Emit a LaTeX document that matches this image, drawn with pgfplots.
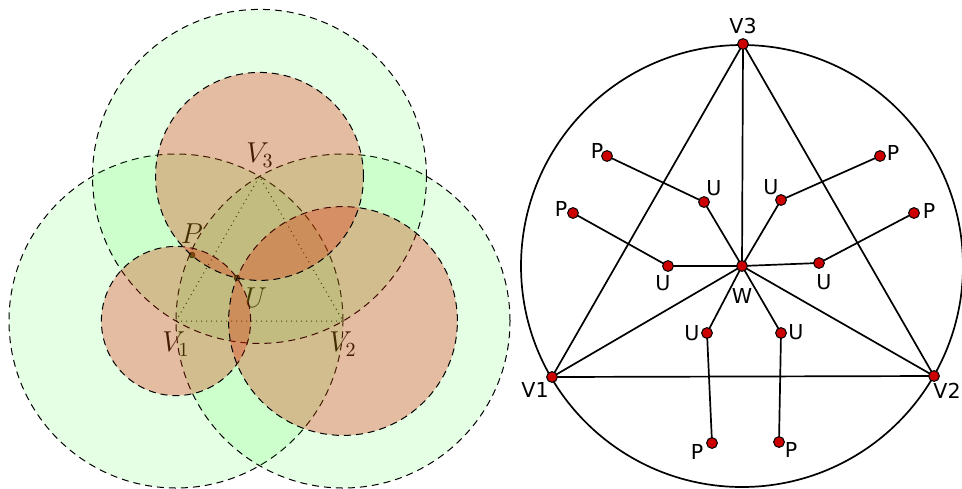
\documentclass[border=0pt]{standalone}
\usepackage{pgfplots}
\pgfplotsset{compat=1.18}
\usepackage{fontspec}
\newfontfamily\dv{DejaVu Sans}
\definecolor{dotred}{RGB}{204,0,0}
\definecolor{salmon}{RGB}{225,35,5}
\begin{document}
\begin{tikzpicture}
\begin{axis}[
    x=0.5pt, y=0.5pt,
    y dir=reverse,
    xmin=0, xmax=962, ymin=0, ymax=488,
    hide axis,
    scale only axis,
    clip=false,
]
% left panel: labels and points first, so the fills tint them
\node[font=\fontsize{14.5}{17}\selectfont] at (axis cs:260,155) {$V_3$};
\node[font=\fontsize{14.5}{17}\selectfont] at (axis cs:176,344) {$V_1$};
\node[font=\fontsize{14.5}{17}\selectfont] at (axis cs:343,344) {$V_2$};
\node[font=\fontsize{14.5}{17}\selectfont] at (axis cs:192,234) {$P$};
\node[font=\fontsize{14.5}{17}\selectfont] at (axis cs:256,298) {$U$};

\addplot[black, dotted, line width=0.5pt, mark=none] coordinates {
    (176,321) (343,321) (259.5,176.4) (176,321)
};
\addplot[only marks, mark=*, mark size=1.4pt, mark options={fill=black!80}] coordinates {
    (192,255) (237,278)
};

% big circles centred at V1, V2, V3
\addplot[only marks, mark=*, mark size=83.5pt,
    mark options={draw=black, line width=0.5pt, dash pattern=on 3.5pt off 2.5pt,
    fill=green, fill opacity=0.105}] coordinates {
    (176,321) (343,321) (259.5,176.4)
};
% circles through U
\addplot[only marks, mark=*, mark size=37.3pt,
    mark options={draw=black, line width=0.5pt, dash pattern=on 3.5pt off 2.5pt,
    fill=salmon, fill opacity=0.3}] coordinates {(176,321)};
\addplot[only marks, mark=*, mark size=57.2pt,
    mark options={draw=black, line width=0.5pt, dash pattern=on 3.5pt off 2.5pt,
    fill=salmon, fill opacity=0.3}] coordinates {(343,321)};
\addplot[only marks, mark=*, mark size=52pt,
    mark options={draw=black, line width=0.5pt, dash pattern=on 3.5pt off 2.5pt,
    fill=salmon, fill opacity=0.3}] coordinates {(259.5,176.4)};

% right panel
\addplot[only marks, mark=o, mark size=110.5pt,
    mark options={draw=black, line width=0.85pt}] coordinates {(742,266)};
\addplot[black, line width=0.85pt] coordinates {(552,377) (934,376) (743,44) (552,377)};
\addplot[black, line width=0.85pt] coordinates {(552,377) (742,266) (934,376)};
\addplot[black, line width=0.85pt] coordinates {(742,266) (743,44)};
\addplot[black, line width=0.85pt] coordinates {(742,266) (704,202) (607,156)};
\addplot[black, line width=0.85pt] coordinates {(742,266) (781,200) (880,156)};
\addplot[black, line width=0.85pt] coordinates {(742,266) (668,266) (573,213)};
\addplot[black, line width=0.85pt] coordinates {(742,266) (819,263) (914,213)};
\addplot[black, line width=0.85pt] coordinates {(742,266) (707,333) (712,443)};
\addplot[black, line width=0.85pt] coordinates {(742,266) (781,333) (779,442)};
\addplot[only marks, mark=*, mark size=2.7pt,
    mark options={fill=dotred, draw=black, line width=0.5pt}] coordinates {
    (552,377) (934,376) (743,44) (742,266)
    (704,202) (781,200) (668,266) (819,263) (707,333) (781,333)
    (607,156) (880,156) (573,213) (914,213) (712,443) (779,442)
};

\node[font=\dv\fontsize{10.3}{12}\selectfont] at (axis cs:743,26) {V3};
\node[font=\dv\fontsize{10.3}{12}\selectfont] at (axis cs:535,390) {V1};
\node[font=\dv\fontsize{10.3}{12}\selectfont] at (axis cs:947,391) {V2};
\node[font=\dv\fontsize{10.3}{12}\selectfont] at (axis cs:742,296) {W};
\node[font=\dv\fontsize{10.3}{12}\selectfont] at (axis cs:597,151) {P};
\node[font=\dv\fontsize{10.3}{12}\selectfont] at (axis cs:893,153) {P};
\node[font=\dv\fontsize{10.3}{12}\selectfont] at (axis cs:561,209) {P};
\node[font=\dv\fontsize{10.3}{12}\selectfont] at (axis cs:929,211) {P};
\node[font=\dv\fontsize{10.3}{12}\selectfont] at (axis cs:697,452) {P};
\node[font=\dv\fontsize{10.3}{12}\selectfont] at (axis cs:791,450) {P};
\node[font=\dv\fontsize{10.3}{12}\selectfont] at (axis cs:714,188) {U};
\node[font=\dv\fontsize{10.3}{12}\selectfont] at (axis cs:771,187) {U};
\node[font=\dv\fontsize{10.3}{12}\selectfont] at (axis cs:663,283) {U};
\node[font=\dv\fontsize{10.3}{12}\selectfont] at (axis cs:824,282) {U};
\node[font=\dv\fontsize{10.3}{12}\selectfont] at (axis cs:692,333) {U};
\node[font=\dv\fontsize{10.3}{12}\selectfont] at (axis cs:796,332) {U};
\end{axis}
\pgfresetboundingbox
\path (current axis.south west) rectangle (current axis.north east);
\end{tikzpicture}
\end{document}
